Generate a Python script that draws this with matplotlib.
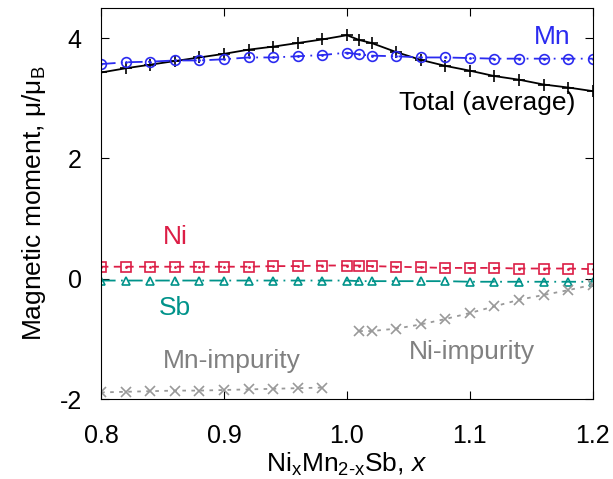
import numpy as np
import matplotlib
matplotlib.use('Agg')
import matplotlib.pyplot as plt
from matplotlib.ticker import FormatStrFormatter, MultipleLocator

plt.rcParams['font.family'] = ['Liberation Sans', 'DejaVu Sans']
plt.rcParams['mathtext.fontset'] = 'custom'
plt.rcParams['mathtext.rm'] = 'Liberation Sans'
plt.rcParams['mathtext.it'] = 'Liberation Sans:italic'
plt.rcParams['axes.unicode_minus'] = False

# composition x
x_all = [0.80, 0.82, 0.84, 0.86, 0.88, 0.90, 0.92, 0.94, 0.96, 0.98, 1.00,
         1.01, 1.02, 1.04, 1.06, 1.08, 1.10, 1.12, 1.14, 1.16, 1.18, 1.20]
x_mn_imp = [0.80, 0.82, 0.84, 0.86, 0.88, 0.90, 0.92, 0.94, 0.96, 0.98]
x_ni_imp = [1.01, 1.02, 1.04, 1.06, 1.08, 1.10, 1.12, 1.14, 1.16, 1.18, 1.20]

total = [3.43, 3.50, 3.56, 3.62, 3.68, 3.74, 3.81, 3.86, 3.92, 3.98, 4.05,
         3.97, 3.92, 3.77, 3.64, 3.54, 3.46, 3.37, 3.31, 3.23, 3.18, 3.12]
mn = [3.57, 3.60, 3.61, 3.63, 3.63, 3.65, 3.68, 3.68, 3.70, 3.72, 3.76,
      3.73, 3.71, 3.70, 3.68, 3.68, 3.67, 3.66, 3.66, 3.66, 3.66, 3.66]
ni = [0.20, 0.20, 0.20, 0.20, 0.20, 0.20, 0.20, 0.21, 0.21, 0.22, 0.22,
      0.22, 0.21, 0.20, 0.19, 0.18, 0.18, 0.18, 0.17, 0.17, 0.17, 0.16]
sb = [-0.03, -0.03, -0.03, -0.03, -0.03, -0.03, -0.03, -0.03, -0.03, -0.03, -0.03,
      -0.04, -0.04, -0.04, -0.04, -0.04, -0.05, -0.05, -0.05, -0.05, -0.05, -0.05]
mn_imp = [-1.89, -1.88, -1.87, -1.86, -1.86, -1.85, -1.84, -1.83, -1.82, -1.81]
ni_imp = [-0.87, -0.87, -0.83, -0.76, -0.67, -0.57, -0.46, -0.35, -0.27, -0.19, -0.10]

c_mn = '#2b2bf0'
c_ni = '#dc1e46'
c_sb = '#00938a'
c_imp = '#999999'

fig = plt.figure(figsize=(6.13, 4.79), dpi=100)
ax = fig.add_axes([0.165, 0.167, 0.802, 0.816])

ax.plot(x_all, total, color='black', lw=1.3, marker='+', ms=8, mew=1.2)
ax.plot(x_all, mn, color=c_mn, lw=1.3, marker='o', ms=7, mfc='none', mew=1.2,
        dashes=(8, 3, 1, 3))
ax.plot(x_all, mn, ls='none', marker='.', ms=2, color=c_mn)
ax.plot(x_all, ni, color=c_ni, lw=1.3, marker='s', ms=7, mfc='none', mew=1.2,
        dashes=(4, 3))
ax.plot(x_all, ni, ls='none', marker='.', ms=2, color=c_ni)
ax.plot(x_all, sb, color=c_sb, lw=1.3, marker='^', ms=6, mfc='none', mew=1.2,
        dashes=(8, 3, 1, 3))
ax.plot(x_mn_imp, mn_imp, color=c_imp, lw=1.3, marker='x', ms=7, mew=1.2,
        dashes=(2, 3))
ax.plot(x_ni_imp, ni_imp, color=c_imp, lw=1.3, marker='x', ms=7, mew=1.2,
        dashes=(2, 3))

ax.text(1.167, 4.02, 'Mn', color=c_mn, fontsize=19, ha='center', va='center')
ax.text(1.186, 2.92, 'Total (average)', color='black', fontsize=19, ha='right', va='center')
ax.text(0.86, 0.70, 'Ni', color=c_ni, fontsize=19, ha='center', va='center')
ax.text(0.86, -0.48, 'Sb', color=c_sb, fontsize=19, ha='center', va='center')
ax.text(0.85, -1.37, 'Mn-impurity', color='#808080', fontsize=19, ha='left', va='center')
ax.text(1.05, -1.22, 'Ni-impurity', color='#808080', fontsize=19, ha='left', va='center')

ax.set_xlim(0.8, 1.2)
ax.set_ylim(-2, 4.5)
ax.xaxis.set_major_locator(MultipleLocator(0.1))
ax.xaxis.set_major_formatter(FormatStrFormatter('%.1f'))
ax.set_yticks([-2, 0, 2, 4])
ax.tick_params(direction='in', top=True, right=True, labelsize=18, length=6,
               width=0.8)
ax.tick_params(axis='x', pad=18)
ax.tick_params(axis='y', pad=14)
ax.set_xlabel(r'Ni$_\mathregular{x}$Mn$_\mathregular{2\text{-}x}$Sb, $\it{x}$', fontsize=19, labelpad=2)
ax.set_ylabel(r'Magnetic moment, μ/μ$_\mathregular{B}$', fontsize=19, labelpad=8)

fig.savefig('out.png', dpi=100)
